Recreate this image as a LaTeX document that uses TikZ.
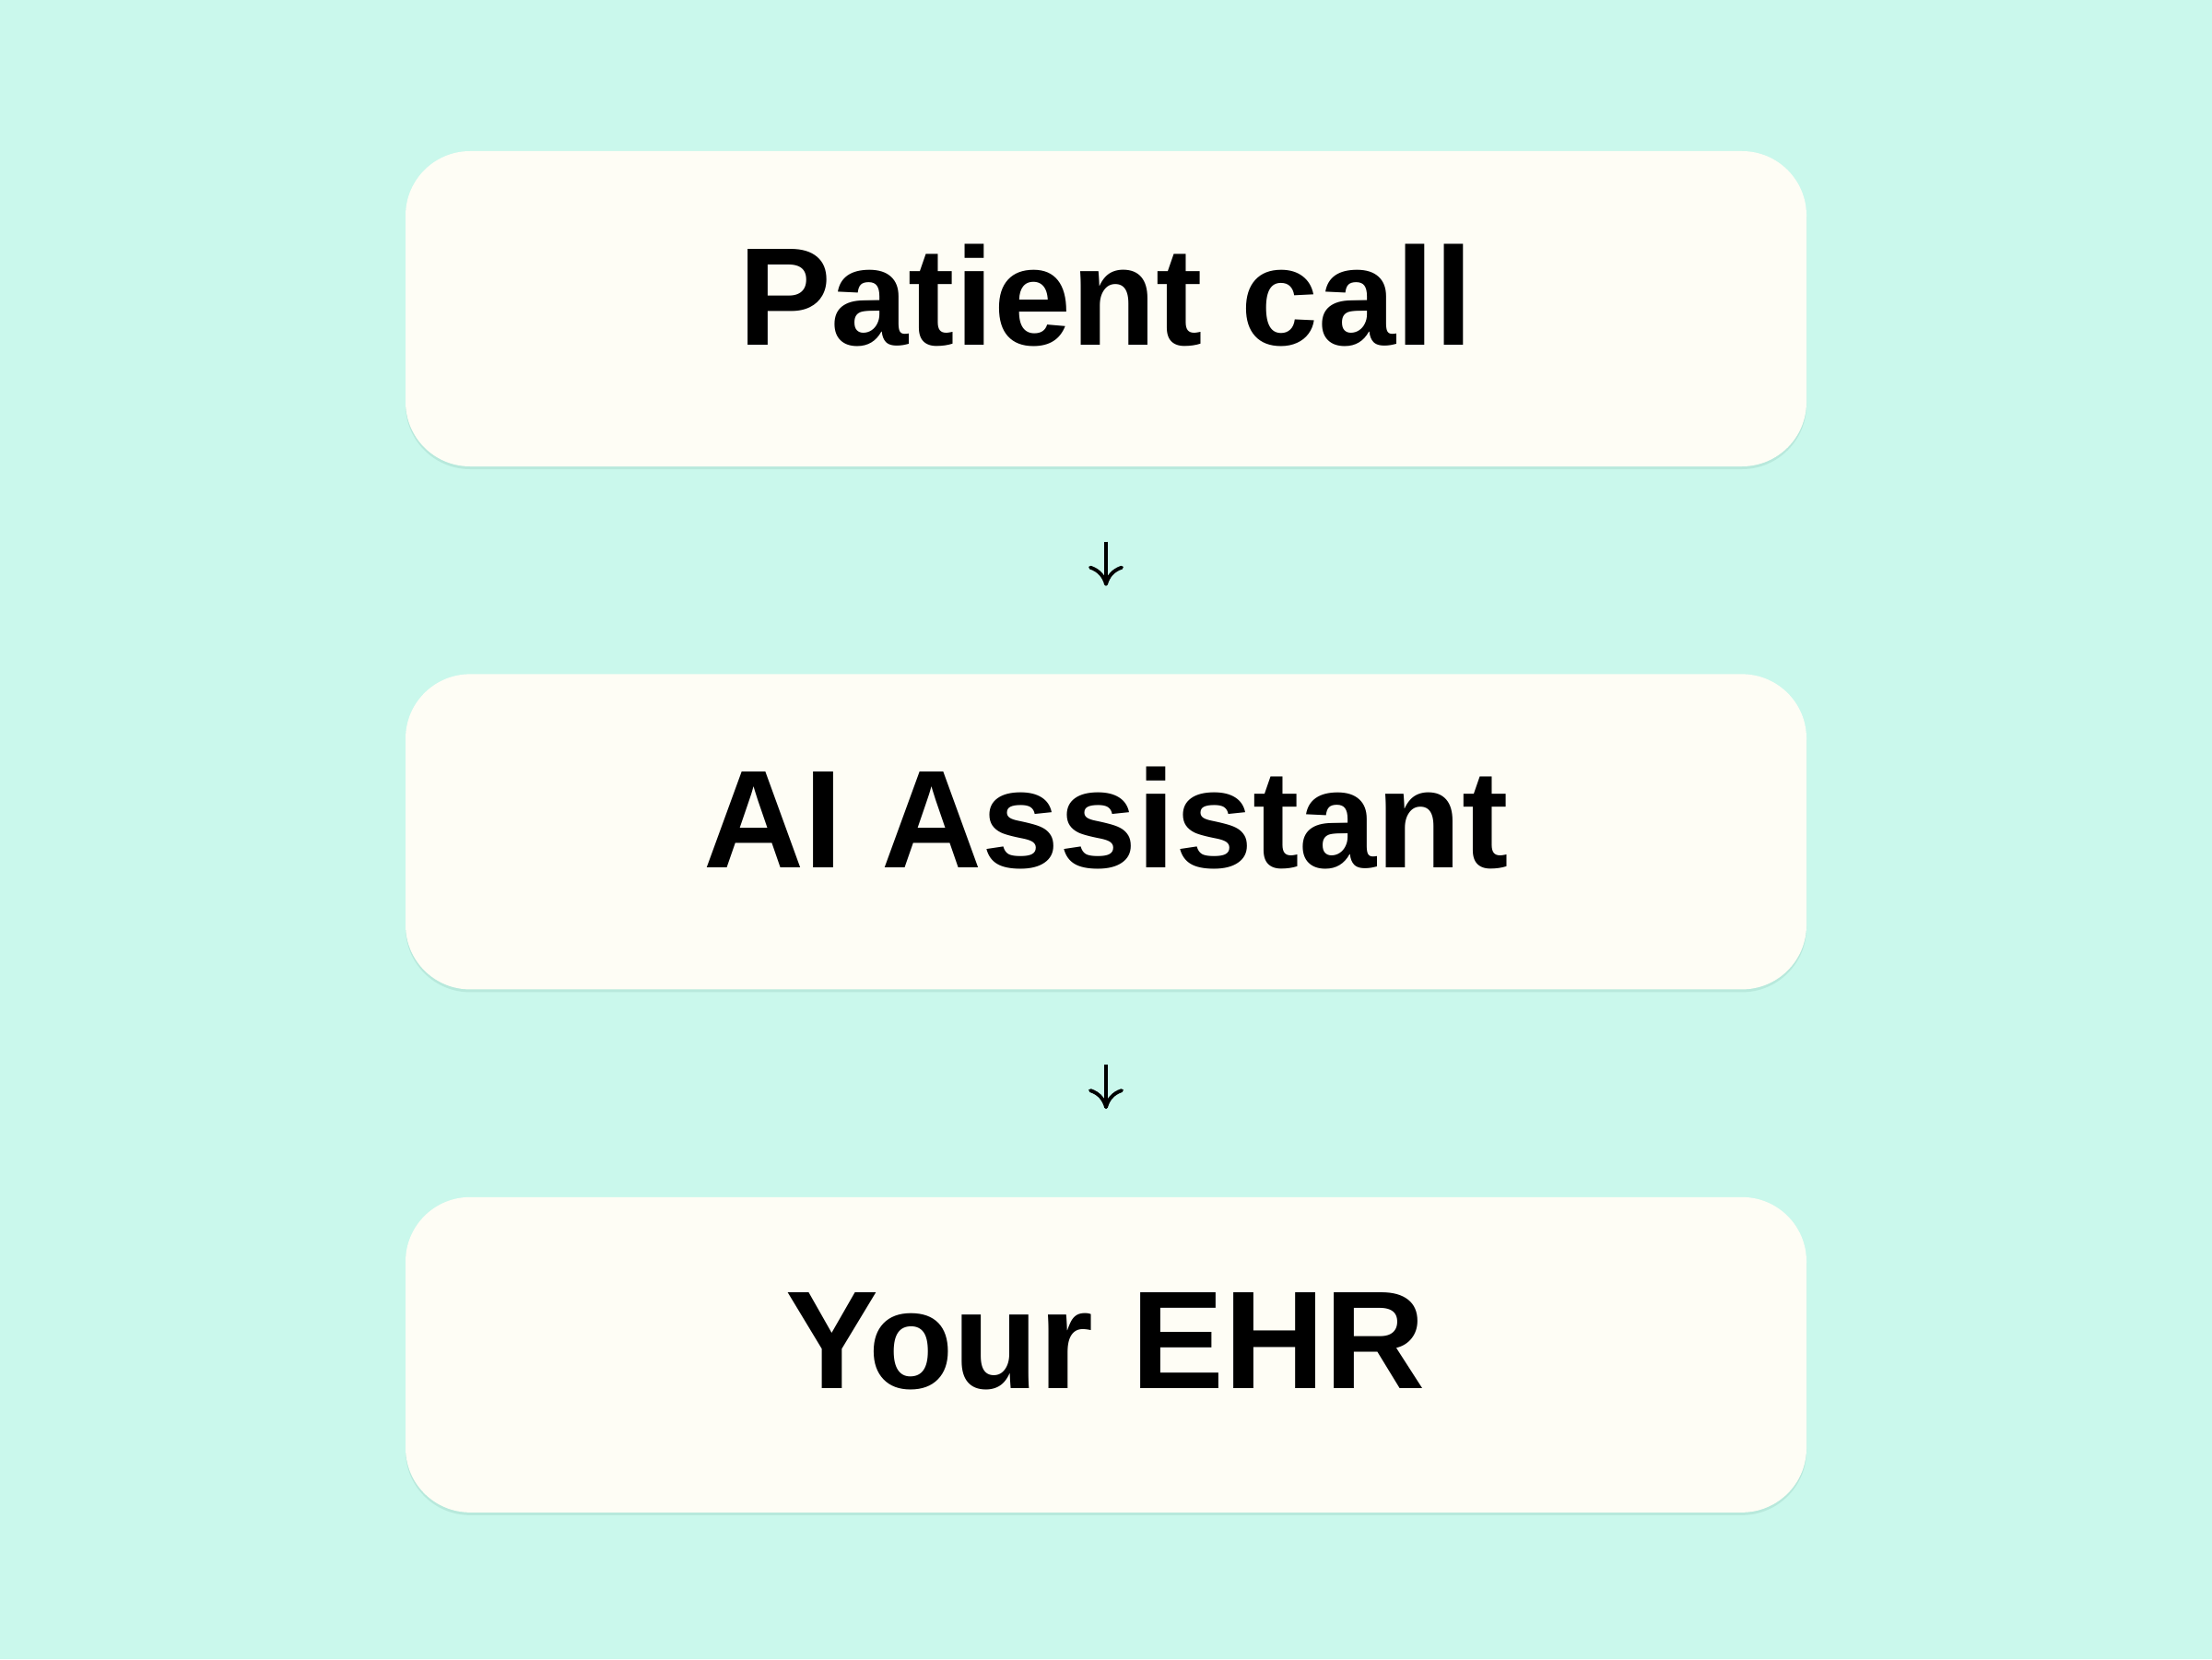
\documentclass[tikz,border=0pt]{standalone}
\usepackage{fontspec}
\setmainfont{Liberation Sans}
\usetikzlibrary{positioning, arrows.meta, shadows}
\definecolor{mintbg}{HTML}{CAF8EC}
\definecolor{creambox}{HTML}{FEFDF5}
\definecolor{mintshade}{HTML}{B4E6D8}

\begin{document}
\begin{tikzpicture}[stagebox/.style = {shape = rectangle, rounded corners = 0.7cm, fill = creambox,
        minimum width = 15.2cm, minimum height = 3.42cm, inner sep = 0pt, text depth = 0.31cm,
        font = \fontsize{43}{50}\selectfont\bfseries,
        drop shadow = {shadow xshift = 0cm, shadow yshift = -0.03cm, fill = mintshade, opacity = 0.8}},
    flow/.style = {line width = 1.1pt, -{Computer Modern Rightarrow[length = 2.2mm, width = 3.8mm, line width = 1.1pt]},
        shorten < = 0.81cm, shorten > = 0.95cm}]
    \fill[mintbg] (0,0) rectangle (24,18);
    \useasboundingbox (0,0) rectangle (24,18);
    \node [stagebox] (call) at (12,14.65) {Patient call};
    \node [stagebox, below = 2.24cm of call] (assist) {AI Assistant};
    \node [stagebox, below = 2.24cm of assist] (ehr) {Your EHR};
    \draw [flow] (call) -- (assist);
    \draw [flow] (assist) -- (ehr);
\end{tikzpicture}
\end{document}
